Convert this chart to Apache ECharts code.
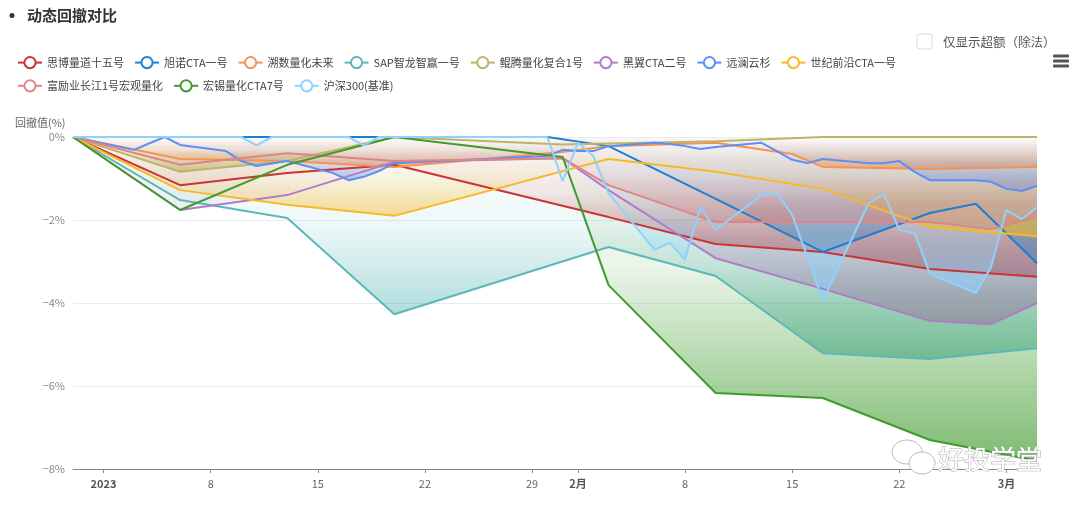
<!DOCTYPE html>
<html><head><meta charset="utf-8">
<script src="https://cdn.jsdelivr.net/npm/echarts@6/dist/echarts.min.js"></script>
<style>html,body{margin:0;padding:0;background:#fff}#c{width:1080px;height:507px}</style>
</head><body><div id="c"></div>
<script>
const seriesNames = ['思博量道十五号','旭诺CTA一号','溯数量化未来','SAP智龙智赢一号','鲲腾量化复合1号','黑翼CTA二号','远澜云杉','世纪前沿CTA一号','富励业长江1号宏观量化','宏锡量化CTA7号','沪深300(基准)'];
const seriesColors = ['#cc3333','#1f7ed0','#f59352','#5cb8b8','#bdb46a','#b07cc6','#5b8ff9','#f7b928','#e08585','#3f9b2c','#8fd2fa'];

const tradeDates = ['2022-12-30','2023-01-03','2023-01-04','2023-01-05','2023-01-06','2023-01-09','2023-01-10','2023-01-11','2023-01-12','2023-01-13','2023-01-16','2023-01-17','2023-01-18','2023-01-19','2023-01-20','2023-01-30','2023-01-31','2023-02-01','2023-02-02','2023-02-03','2023-02-06','2023-02-07','2023-02-08','2023-02-09','2023-02-10','2023-02-13','2023-02-14','2023-02-15','2023-02-16','2023-02-17','2023-02-20','2023-02-21','2023-02-22','2023-02-23','2023-02-24','2023-02-27','2023-02-28','2023-03-01','2023-03-02','2023-03-03'];

const siboDates = ['2022-12-30','2023-01-06','2023-01-13','2023-01-20','2023-02-03','2023-02-10','2023-02-17','2023-02-24','2023-03-03'];
const siboVals  = [0,-1.16,-0.87,-0.67,-1.93,-2.58,-2.77,-3.18,-3.37];

const xunuoDates = ['2022-12-30','2023-01-06','2023-01-13','2023-01-20','2023-01-30','2023-02-03','2023-02-10','2023-02-17','2023-02-24','2023-02-27','2023-03-03'];
const xunuoVals  = [0,0,0,0,0,-0.22,-1.49,-2.77,-1.83,-1.61,-3.04];

const sushuDates = ['2022-12-30','2023-01-06','2023-01-13','2023-01-20','2023-01-31','2023-02-03','2023-02-10','2023-02-15','2023-02-17','2023-02-24','2023-03-03'];
const sushuVals  = [0,-0.53,-0.58,-0.72,-0.36,-0.22,-0.14,-0.41,-0.72,-0.77,-0.72];

const sapDates = ['2022-12-30','2023-01-06','2023-01-13','2023-01-20','2023-02-03','2023-02-10','2023-02-17','2023-02-24','2023-03-03'];
const sapVals  = [0,-1.52,-1.95,-4.27,-2.65,-3.35,-5.21,-5.35,-5.09];

const kuntengDates = ['2022-12-30','2023-01-06','2023-01-13','2023-01-20','2023-01-31','2023-02-10','2023-02-17','2023-02-24','2023-03-03'];
const kuntengVals  = [0,-0.84,-0.58,0,-0.18,-0.10,0,0,0];

const heiyiDates = ['2022-12-30','2023-01-06','2023-01-13','2023-01-20','2023-01-31','2023-02-03','2023-02-10','2023-02-17','2023-02-24','2023-02-28','2023-03-03'];
const heiyiVals  = [0,-1.76,-1.40,-0.60,-0.51,-1.28,-2.92,-3.66,-4.43,-4.51,-4.00];

const yuanlanVals = [0,-0.31,-0.15,0,-0.19,-0.34,-0.58,-0.70,-0.64,-0.58,-0.87,-1.04,-0.96,-0.82,-0.63,-0.46,-0.31,-0.34,-0.34,-0.22,-0.14,-0.17,-0.22,-0.29,-0.24,-0.14,-0.34,-0.55,-0.63,-0.53,-0.63,-0.63,-0.58,-0.84,-1.04,-1.04,-1.08,-1.25,-1.30,-1.18];

const shijiDates = ['2022-12-30','2023-01-06','2023-01-13','2023-01-20','2023-02-03','2023-02-10','2023-02-17','2023-02-24','2023-03-03'];
const shijiVals  = [0,-1.28,-1.63,-1.90,-0.53,-0.84,-1.25,-2.17,-2.39];

const fuliDates = ['2022-12-30','2023-01-06','2023-01-13','2023-01-20','2023-01-31','2023-02-03','2023-02-10','2023-02-17','2023-02-24','2023-02-28','2023-03-03'];
const fuliVals  = [0,-0.67,-0.39,-0.58,-0.51,-1.16,-2.05,-2.05,-2.05,-2.22,-1.93];

const hongxiDates = ['2022-12-30','2023-01-06','2023-01-13','2023-01-20','2023-01-31','2023-02-03','2023-02-10','2023-02-17','2023-02-24','2023-03-03'];
const hongxiVals  = [0,-1.76,-0.67,0,-0.48,-3.57,-6.17,-6.29,-7.30,-7.80];

const csiVals = [0,0,0,0,0,0,0,-0.2,0,0,0,0,-0.2,0,0,0,-1.06,-0.14,-0.46,-1.35,-2.72,-2.55,-2.96,-1.69,-2.24,-1.40,-1.35,-1.88,-2.9,-3.95,-1.59,-1.37,-2.24,-2.31,-3.30,-3.76,-3.13,-1.76,-1.98,-1.69];

const yTicks = [-8,-6,-4,-2,0];

const seriesData = [
  [siboDates, siboVals],[xunuoDates, xunuoVals],[sushuDates, sushuVals],[sapDates, sapVals],
  [kuntengDates, kuntengVals],[heiyiDates, heiyiVals],[tradeDates, yuanlanVals],[shijiDates, shijiVals],
  [fuliDates, fuliVals],[hongxiDates, hongxiVals],[tradeDates, csiVals]
];

function rgba(hex, a){
  const n = parseInt(hex.slice(1),16);
  return 'rgba(' + (n>>16 & 255) + ',' + (n>>8 & 255) + ',' + (n & 255) + ',' + a + ')';
}

const chart = echarts.init(document.getElementById('c'), null, {renderer:'canvas'});
const FONT = '"Noto Sans CJK SC","Noto Sans",sans-serif';

const series = seriesNames.map((name, i) => ({
  name: name,
  type: 'line',
  symbol: 'emptyCircle',
  symbolSize: 9,
  showSymbol: false,
  data: seriesData[i][0].map((d, k) => [d, seriesData[i][1][k]]),
  lineStyle: {width: 2, color: seriesColors[i]},
  itemStyle: {color: seriesColors[i], borderWidth: 2},
  areaStyle: {
    color: {
      type: 'linear', x: 0, y: 0, x2: 0, y2: 1,
      colorStops: [
        {offset: 0, color: rgba(seriesColors[i], 0)},
        {offset: 0.4, color: rgba(seriesColors[i], 0.15)},
        {offset: 1, color: rgba(seriesColors[i], 0.97)}
      ]
    }
  },
  emphasis: {disabled: true},
  animation: false
}));

chart.setOption({
  animation: false,
  textStyle: {fontFamily: FONT},
  title: {
    text: '动态回撤对比', left: 22, top: 3,
    textStyle: {fontSize: 15, fontWeight: 'bold', color: '#333', fontFamily: FONT}
  },
  legend: {
    left: 12, top: 51, width: 920,
    itemWidth: 24, itemHeight: 14, itemGap: 10,
    textStyle: {fontSize: 11, color: '#444', fontFamily: FONT},
    data: seriesNames
  },
  grid: {left: 73, right: 43, top: 137, bottom: 38},
  xAxis: {
    type: 'time',
    min: '2022-12-30', max: '2023-03-03',
    splitNumber: 7,
    axisLine: {onZero: false, lineStyle: {color: '#888'}},
    axisTick: {show: true, length: 4, lineStyle: {color: '#888'}},
    splitLine: {show: false},
    axisLabel: {
      color: '#666', fontSize: 11, margin: 9,
      formatter: {year: '{primary|{yyyy}}', month: '{primary|{M}月}', day: '{d}'},
      rich: {primary: {fontWeight: 'bold', color: '#555', fontSize: 11}}
    }
  },
  yAxis: {
    type: 'value', min: yTicks[0], max: yTicks[yTicks.length - 1], interval: 2,
    axisLine: {show: false}, axisTick: {show: false},
    splitLine: {lineStyle: {color: '#e8ebf2'}},
    axisLabel: {color: '#888', fontSize: 11, formatter: v => (v < 0 ? '−' + (-v) : v) + '%'}
  },
  graphic: [
    {type: 'circle', shape: {cx: 12, cy: 15.5, r: 2.5}, style: {fill: '#333'}},
    {type: 'text', left: 15, top: 117, style: {text: '回撤值(%)', fontSize: 11, fill: '#666', fontFamily: FONT}},
    {type: 'rect', shape: {x: 917, y: 34, width: 15, height: 15, r: 2}, style: {fill: '#fff', stroke: '#d9d9d9', lineWidth: 1}},
    {type: 'text', x: 943, y: 42, style: {text: '仅显示超额（除法）', fontSize: 12.5, fill: '#555', fontFamily: FONT, textVerticalAlign: 'middle'}},
    {type: 'rect', shape: {x: 1053, y: 54.5, width: 16, height: 3, r: 1}, style: {fill: '#555'}},
    {type: 'rect', shape: {x: 1053, y: 59.5, width: 16, height: 3, r: 1}, style: {fill: '#555'}},
    {type: 'rect', shape: {x: 1053, y: 64.5, width: 16, height: 3, r: 1}, style: {fill: '#555'}},
    {type: 'ellipse', shape: {cx: 907, cy: 452, rx: 15, ry: 12}, style: {fill: '#fff', stroke: '#bbb', lineWidth: 1}, z: 100},
    {type: 'ellipse', shape: {cx: 922, cy: 463, rx: 13, ry: 11}, style: {fill: '#fff', stroke: '#bbb', lineWidth: 1}, z: 101},
    {type: 'text', x: 938, y: 459, z: 102, style: {text: '好投学堂', fontSize: 26, fill: '#fff', stroke: '#aaa', lineWidth: 1, fontFamily: FONT, textVerticalAlign: 'middle'}}
  ],
  series: series
});
</script></body></html>
